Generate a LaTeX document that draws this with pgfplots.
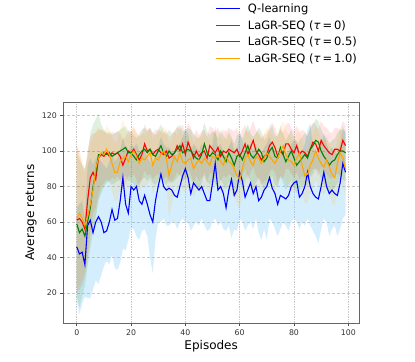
\documentclass[border=0pt]{standalone}
\usepackage{fontspec}
\setmainfont{DejaVu Sans}
\usepackage{pgfplots}
\usepackage{pgfplotstable}
\pgfplotsset{compat=1.18}
\usepgfplotslibrary{fillbetween}

\definecolor{colQ}{RGB}{0,0,255}
\definecolor{colR}{RGB}{255,0,0}
\definecolor{legR}{RGB}{254,1,1}
\definecolor{colG}{RGB}{0,128,0}
\definecolor{colO}{RGB}{255,165,0}
\definecolor{skyfill}{RGB}{135,206,250}
\newcommand{\legline}[1]{{\color{#1}\rule[0.3em]{24pt}{1.1pt}}\hspace{8pt}}

% episode, mean, lower, upper
\pgfplotstableread{
x y lo hi
0 46 16 68
1 42 8 70
2 43 14 72
3 36 18 62
4 58 17 92
5 61 17 96
6 54 22 92
7 60 27 96
8 63 25 95
9 60 30 94
10 54 35 92
11 55 38 90
12 60 36 94
13 67 42 98
14 61 34 94
15 62 33 96
16 72 37 100
17 85 45 108
18 70 44 102
19 65 50 98
20 80 57 104
21 78 56 102
22 80 52 104
23 72 50 100
24 70 55 98
25 75 56 100
26 70 52 96
27 64 40 94
28 60 31 92
29 72 50 98
30 80 60 102
31 87 60 108
32 80 62 104
33 78 58 102
34 79 58 102
35 78 60 100
36 75 60 98
37 74 56 98
38 80 60 104
39 86 62 108
40 90 60 112
41 85 60 110
42 76 55 100
43 82 58 104
44 80 60 102
45 78 58 100
46 80 62 104
47 76 58 100
48 72 55 98
49 72 56 96
50 82 60 104
51 93 62 114
52 78 58 102
53 80 60 104
54 76 56 100
55 68 55 96
56 78 58 102
57 84 51 106
58 75 56 100
59 78 55 102
60 88 62 110
61 83 60 106
62 74 55 98
63 78 58 102
64 82 60 104
65 76 56 100
66 80 62 104
67 72 54 98
68 74 50 98
69 78 56 102
70 80 50 104
71 85 62 108
72 79 60 102
73 76 56 100
74 70 52 96
75 75 56 100
76 74 60 98
77 73 58 98
78 75 55 100
79 80 60 104
80 82 62 106
81 83 60 106
82 74 56 100
83 76 60 100
84 80 58 104
85 88 62 112
86 80 58 116
87 76 55 102
88 74 52 98
89 73 48 98
90 80 56 104
91 88 62 110
92 80 60 104
93 76 52 100
94 78 56 102
95 76 58 100
96 75 52 98
97 82 56 104
98 93 62 114
99 88 64 110
}\qtab

\pgfplotstableread{
x y lo hi
0 61 20 103
1 62 22 98
2 60 25 92
3 56 30 88
4 72 40 100
5 85 55 108
6 88 65 110
7 84 68 110
8 96 75 112
9 98 80 112
10 97 82 111
11 99 84 110
12 97 83 109
13 99 85 111
14 98 84 110
15 99 86 111
16 97 83 110
17 92 78 106
18 96 82 108
19 100 86 112
20 99 85 110
21 101 87 113
22 98 84 110
23 95 80 108
24 98 84 110
25 104 89 115
26 100 86 112
27 101 87 113
28 98 84 110
29 100 86 112
30 101 87 112
31 99 85 111
32 98 84 110
33 100 86 112
34 96 82 108
35 97 83 109
36 99 85 111
37 103 88 114
38 100 86 112
39 104 90 115
40 98 84 110
41 105 90 116
42 101 87 113
43 96 82 108
44 100 86 112
45 97 83 109
46 99 85 111
47 100 86 112
48 96 82 108
49 103 88 114
50 101 87 113
51 99 85 111
52 102 88 113
53 97 83 109
54 100 86 112
55 99 85 111
56 101 87 113
57 100 86 112
58 99 85 111
59 101 87 113
60 97 83 109
61 100 86 112
62 104 90 115
63 98 84 110
64 102 88 113
65 106 91 117
66 100 86 112
67 98 84 110
68 95 81 107
69 97 83 109
70 98 84 110
71 103 88 114
72 105 90 116
73 102 88 113
74 97 83 109
75 100 86 112
76 98 84 110
77 104 90 115
78 104 90 116
79 101 87 113
80 99 85 111
81 103 88 114
82 98 84 110
83 100 86 112
84 99 85 111
85 97 83 109
86 101 87 113
87 105 90 116
88 104 90 115
89 100 86 112
90 106 91 117
91 103 88 114
92 101 87 113
93 99 85 111
94 98 84 110
95 101 87 113
96 101 87 113
97 100 86 112
98 106 91 117
99 103 88 114
}\rtab

\pgfplotstableread{
x y lo hi
0 59 18 100
1 54 12 95
2 56 18 92
3 52 24 90
4 60 35 98
5 68 45 110
6 80 55 115
7 88 62 118
8 98 72 121
9 98 76 115
10 99 80 112
11 98 82 110
12 99 83 111
13 97 81 109
14 98 82 110
15 99 83 111
16 100 84 112
17 101 85 113
18 102 86 114
19 99 83 111
20 99 83 111
21 97 81 109
22 95 79 107
23 98 82 110
24 100 84 112
25 101 85 113
26 99 83 111
27 101 85 113
28 98 82 110
29 97 81 109
30 100 84 112
31 103 87 115
32 99 83 111
33 97 81 109
34 100 84 112
35 98 82 110
36 99 83 111
37 101 85 113
38 103 87 115
39 99 83 111
40 100 84 112
41 101 85 113
42 100 84 112
43 98 82 110
44 96 80 108
45 95 79 107
46 98 82 110
47 104 88 116
48 99 83 111
49 97 81 109
50 99 83 111
51 98 82 110
52 95 79 107
53 100 84 112
54 97 81 109
55 94 78 106
56 99 83 111
57 96 80 108
58 92 76 104
59 97 81 109
60 98 82 110
61 95 79 107
62 99 83 111
63 103 87 115
64 98 82 110
65 96 80 108
66 98 82 110
67 101 85 113
68 99 83 111
69 94 78 106
70 96 80 108
71 100 84 112
72 102 86 114
73 97 81 109
74 96 80 108
75 102 86 114
76 98 82 110
77 94 78 106
78 97 81 109
79 100 84 112
80 96 80 108
81 92 76 104
82 94 78 106
83 96 80 108
84 98 82 110
85 96 80 108
86 101 85 113
87 103 87 115
88 106 90 118
89 105 89 117
90 100 84 112
91 97 81 109
92 95 79 107
93 92 76 104
94 94 78 106
95 95 79 107
96 98 82 110
97 100 84 112
98 100 84 112
99 99 83 111
}\gtab

\pgfplotstableread{
x y lo hi
0 62 22 103
1 65 25 100
2 62 28 95
3 58 32 90
4 63 40 96
5 70 48 104
6 78 58 108
7 90 65 112
8 96 72 113
9 99 78 112
10 98 80 111
11 101 84 114
12 98 82 112
13 93 77 108
14 88 72 104
15 88 72 106
16 94 78 112
17 96 80 118
18 97 81 112
19 94 78 108
20 98 82 112
21 100 84 114
22 97 81 111
23 93 77 107
24 96 80 110
25 95 79 109
26 97 81 111
27 99 83 113
28 92 76 106
29 96 80 110
30 95 79 109
31 98 82 112
32 100 84 114
33 96 80 110
34 86 62 104
35 92 70 106
36 97 81 111
37 94 78 108
38 99 83 113
39 94 78 108
40 93 77 107
41 95 79 109
42 96 80 110
43 90 74 104
44 93 77 107
45 95 79 109
46 93 77 107
47 96 80 110
48 94 78 108
49 92 76 106
50 97 81 111
51 96 80 110
52 98 82 112
53 94 78 108
54 92 76 106
55 97 81 111
56 94 78 108
57 93 77 107
58 90 74 104
59 86 70 100
60 84 68 98
61 90 74 104
62 96 80 110
63 98 82 112
64 94 78 108
65 92 76 106
66 97 81 111
67 96 80 110
68 93 77 107
69 96 80 110
70 99 83 113
71 97 81 111
72 95 79 109
73 93 77 107
74 96 80 110
75 100 84 114
76 103 87 117
77 98 82 112
78 95 79 109
79 94 78 108
80 92 76 106
81 96 80 110
82 99 83 113
83 92 76 106
84 86 70 100
85 87 71 101
86 92 76 106
87 95 79 109
88 100 84 114
89 96 80 110
90 93 77 107
91 91 75 105
92 95 79 109
93 91 75 105
94 87 71 101
95 85 69 99
96 93 77 107
97 99 83 113
98 96 80 110
99 90 74 104
}\otab

\begin{document}
\begin{tikzpicture}
\begin{axis}[
  at={(63.3pt,38.7pt)}, anchor=south west,
  width=295.7pt, height=220.6pt, scale only axis,
  xmin=-4.95, xmax=103.95, ymin=3.1, ymax=127.4,
  xtick={0,20,...,100}, ytick={20,40,...,120},
  xtick pos=bottom, ytick pos=left,
  tick align=outside, major tick length=3pt,
  tick style={black!70, line width=0.6pt},
  axis line style={black!60, line width=0.8pt},
  tick label style={font=\fontsize{7.8}{9}\selectfont, text=black!80},
  /pgf/number format/assume math mode=true,
  grid=major, grid style={black!22, dash pattern=on 2pt off 1.2pt on 0.6pt off 1.2pt, line width=0.5pt},
  xlabel={Episodes}, ylabel={Average returns},
  label style={font=\fontsize{12}{14}\selectfont},
  xlabel style={at={(axis description cs:0.5,-0.103)}, anchor=center},
  ylabel style={at={(axis description cs:-0.109,0.5)}, anchor=center},
  legend style={at={(0.5,1.465)}, anchor=north west, draw=none, fill=none,
    font=\fontsize{11.5}{13}\selectfont, row sep=3.6pt,
    nodes={inner sep=1.5pt}},
  legend cell align=left,
  legend image code/.code={},
]
\addlegendimage{empty legend}
\addlegendentry{\legline{colQ}Q-learning}
\addlegendimage{empty legend}
\addlegendentry{\legline{legR}LaGR-SEQ (\textit{τ}\,=\,0)}
\addlegendimage{empty legend}
\addlegendentry{\legline{colG}LaGR-SEQ (\textit{τ}\,=\,0.5)}
\addlegendimage{empty legend}
\addlegendentry{\legline{colO}LaGR-SEQ (\textit{τ}\,=\,1.0)}
% bands
\addplot[name path=qlo, draw=none, forget plot] table[x=x, y=lo] {\qtab};
\addplot[name path=qhi, draw=none, forget plot] table[x=x, y=hi] {\qtab};
\addplot[skyfill, fill opacity=0.35, forget plot] fill between[of=qlo and qhi];
\addplot[name path=rlo, draw=none, forget plot] table[x=x, y=lo] {\rtab};
\addplot[name path=rhi, draw=none, forget plot] table[x=x, y=hi] {\rtab};
\addplot[colR, fill opacity=0.1, forget plot] fill between[of=rlo and rhi];
\addplot[name path=glo, draw=none, forget plot] table[x=x, y=lo] {\gtab};
\addplot[name path=ghi, draw=none, forget plot] table[x=x, y=hi] {\gtab};
\addplot[colG, fill opacity=0.12, forget plot] fill between[of=glo and ghi];
\addplot[name path=olo, draw=none, forget plot] table[x=x, y=lo] {\otab};
\addplot[name path=ohi, draw=none, forget plot] table[x=x, y=hi] {\otab};
\addplot[colO, fill opacity=0.12, forget plot] fill between[of=olo and ohi];
% means
\addplot[colQ, line width=1.1pt, forget plot] table[x=x, y=y] {\qtab};
\addplot[colR, line width=1.1pt, forget plot] table[x=x, y=y] {\rtab};
\addplot[colG, line width=1.1pt, forget plot] table[x=x, y=y] {\gtab};
\addplot[colO, line width=1.1pt, forget plot] table[x=x, y=y] {\otab};
\end{axis}
\path (0,0) rectangle (415pt,361pt);
\end{tikzpicture}
\end{document}
